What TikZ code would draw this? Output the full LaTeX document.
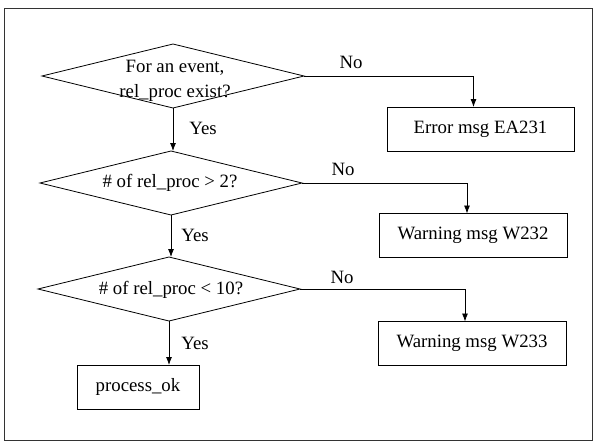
\documentclass[tikz,border=0pt]{standalone}
\usepackage{fontspec}
\setmainfont{Liberation Serif}
\usetikzlibrary{shapes.geometric,arrows.meta}
\begin{document}
\begin{tikzpicture}[x=1pt,y=-1pt,
  every node/.style={font=\fontsize{18.8}{25}\selectfont},
  dec/.style={diamond,draw,line width=0.8pt,minimum width=262pt,minimum height=64pt,inner sep=0pt,outer sep=0pt},
  msgbox/.style={rectangle,draw,line width=0.8pt,minimum width=188pt,minimum height=44pt,inner sep=0pt,outer sep=0pt},
  lbl/.style={inner sep=0pt},
  conn/.style={line width=0.8pt,-{Latex[length=8pt,width=6pt]}}]
\useasboundingbox (0,0) rectangle (598,445);
\draw[line width=1pt,black!80] (4,8) rectangle (592,440);
% decisions
\node[dec] (d1) at (173,76) {};
\node[lbl,align=center] (t1) at (175,81) {For an event,\\rel\_proc exist?};
\node[dec] (d2) at (171,183) {};
\node[lbl] (t2) at (170,183) {\# of rel\_proc > 2?};
\node[dec] (d3) at (169,289) {};
\node[lbl] (t3) at (171,290) {\# of rel\_proc < 10?};
% boxes
\node[msgbox,minimum width=187pt] (e1) at (480.5,129) {Error msg EA231};
\node[msgbox] (w2) at (473,235.5) {Warning msg W232};
\node[msgbox] (w3) at (472,343.5) {Warning msg W233};
\node[msgbox,minimum width=122pt] (ok) at (138,387) {process\_ok};
% yes connectors
\draw[conn] (d1.south) -- (d1.south |- d2.north);
\draw[conn] (d2.south) -- (d2.south |- d3.north);
\draw[conn] (d3.south) -- (d3.south |- ok.north);
% no connectors
\draw[conn] (d1.east) -| ([xshift=-7pt]e1.north);
\draw[conn] (d2.east) -| ([xshift=-6pt]w2.north);
\draw[conn] (d3.east) -| ([xshift=-7pt]w3.north);
% labels
\node[lbl] (y1) at (203,128) {Yes};
\node[lbl] (y2) at (195,235) {Yes};
\node[lbl] (y3) at (195,343) {Yes};
\node[lbl] (n1) at (351,62) {No};
\node[lbl] (n2) at (343,169) {No};
\node[lbl] (n3) at (342,277) {No};
\end{tikzpicture}
\end{document}
